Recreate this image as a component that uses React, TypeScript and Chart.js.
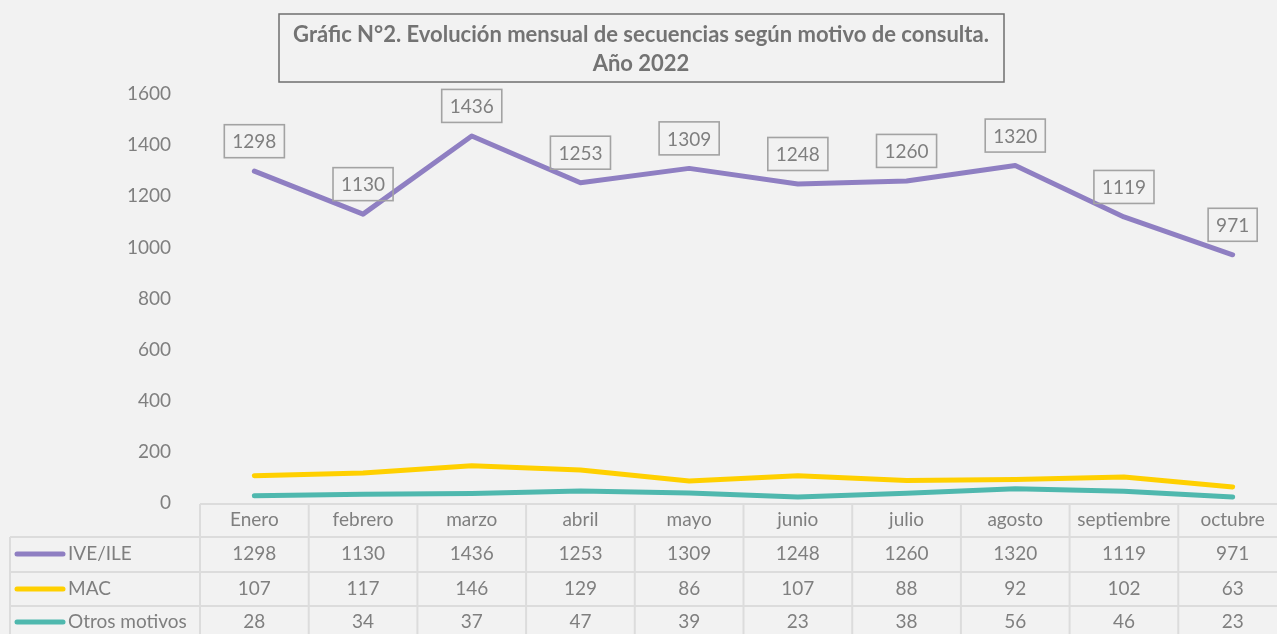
import React, { useEffect, useRef } from "react";
import { Chart, registerables } from "chart.js";

Chart.register(...registerables);

const categories = ["Enero", "febrero", "marzo", "abril", "mayo", "junio", "julio", "agosto", "septiembre", "octubre"];
const ive = [1298, 1130, 1436, 1253, 1309, 1248, 1260, 1320, 1119, 971];
const mac = [107, 117, 146, 129, 86, 107, 88, 92, 102, 63];
const otros = [28, 34, 37, 47, 39, 23, 38, 56, 46, 23];
const seriesNames = ["IVE/ILE", "MAC", "Otros motivos"];
const seriesColors = ["#8f7fc2", "#ffd000", "#4fb8ae"];
const titleLines = ["Gráfic N°2. Evolución mensual de secuencias según motivo de consulta.", "Año 2022"];

const FONT = "Lato, 'Open Sans', sans-serif";
const TEXT = "#7f7f7f";
const GRID = "#dcdcdc";

const overlay = {
  id: "overlay",
  beforeDraw(chart: any) {
    const ctx = chart.ctx;
    ctx.save();
    ctx.fillStyle = "#f2f2f2";
    ctx.fillRect(0, 0, chart.width, chart.height);
    ctx.restore();
  },
  afterDraw(chart: any) {
    const ctx = chart.ctx;
    const x = chart.scales.x;
    const area = chart.chartArea;
    const colW = area.width / categories.length;
    ctx.save();

    // Title box
    ctx.strokeStyle = "#6f6f6f";
    ctx.lineWidth = 1.5;
    ctx.strokeRect(279, 14, 725, 68);
    ctx.fillStyle = "#737373";
    ctx.font = "bold 22px " + FONT;
    ctx.textAlign = "center";
    ctx.textBaseline = "middle";
    ctx.fillText(titleLines[0], 641, 35);
    ctx.fillText(titleLines[1], 641, 64);

    // Data table
    const rowTops = [504, 537, 572, 606, 640];
    ctx.strokeStyle = GRID;
    ctx.lineWidth = 2;
    ctx.beginPath();
    ctx.moveTo(area.left, rowTops[0]);
    ctx.lineTo(area.right, rowTops[0]);
    for (let r = 1; r < 4; r++) {
      ctx.moveTo(10, rowTops[r]);
      ctx.lineTo(area.right, rowTops[r]);
    }
    ctx.moveTo(10, rowTops[1]);
    ctx.lineTo(10, 640);
    for (let c = 0; c <= categories.length; c++) {
      const xx = area.left + c * colW;
      ctx.moveTo(xx, rowTops[0]);
      ctx.lineTo(xx, 640);
    }
    ctx.stroke();

    ctx.font = "19px " + FONT;
    ctx.fillStyle = TEXT;
    ctx.textAlign = "center";
    ctx.textBaseline = "middle";
    const rows = [categories, ive, mac, otros];
    const centers = [520, 554, 589, 622];
    rows.forEach((row: any[], r) => {
      row.forEach((v, i) => {
        ctx.fillText(String(v), x.getPixelForValue(i), centers[r]);
      });
    });

    // legend keys in table
    seriesNames.forEach((name, s) => {
      const cy = centers[s + 1];
      ctx.strokeStyle = seriesColors[s];
      ctx.lineWidth = 5;
      ctx.lineCap = "round";
      ctx.beginPath();
      ctx.moveTo(17, cy);
      ctx.lineTo(63, cy);
      ctx.stroke();
      ctx.fillStyle = TEXT;
      ctx.textAlign = "left";
      ctx.fillText(name, 68, cy);
    });

    // data labels for IVE/ILE
    const meta = chart.getDatasetMeta(0);
    ctx.font = "19px " + FONT;
    ctx.textAlign = "center";
    ctx.lineWidth = 1.6;
    ctx.lineCap = "butt";
    meta.data.forEach((pt: any, i: number) => {
      const label = String(ive[i]);
      const w = ctx.measureText(label).width + 16;
      const h = 33;
      const cx = pt.x;
      const cy = pt.y - 30;
      ctx.strokeStyle = "#a3a3a3";
      ctx.strokeRect(cx - w / 2, cy - h / 2, w, h);
      ctx.fillStyle = TEXT;
      ctx.fillText(label, cx, cy + 1);
    });

    ctx.restore();
  },
};

export default function App() {
  const ref = useRef<HTMLCanvasElement | null>(null);
  useEffect(() => {
    if (!ref.current) return;
    const chart = new Chart(ref.current, {
      type: "line",
      data: {
        labels: categories,
        datasets: [
          { label: seriesNames[0], data: ive, borderColor: seriesColors[0] },
          { label: seriesNames[1], data: mac, borderColor: seriesColors[1] },
          { label: seriesNames[2], data: otros, borderColor: seriesColors[2] },
        ].map((d) => ({
          ...d,
          borderWidth: 5,
          pointRadius: 0,
          pointHoverRadius: 0,
          tension: 0,
          fill: false,
          borderCapStyle: "round" as const,
          borderJoinStyle: "round" as const,
        })),
      },
      options: {
        animation: false,
        responsive: false,
        layout: { padding: { top: 94, bottom: 131, right: 3, left: 0 } },
        plugins: { legend: { display: false }, title: { display: false }, tooltip: { enabled: false } },
        scales: {
          x: { display: false, offset: true },
          y: {
            min: 0,
            max: 1600,
            afterFit: (s: any) => {
              s.width = 200;
            },
            grid: { display: false },
            border: { display: false },
            ticks: {
              stepSize: 200,
              padding: 21,
              color: TEXT,
              font: { family: FONT, size: 19 },
              callback: (v: any) => String(v),
            },
          },
        },
      },
      plugins: [overlay],
    });
    return () => chart.destroy();
  }, []);
  return (
    <div style={{ position: "fixed", left: 0, top: 0, width: 1277, height: 634, overflow: "hidden", background: "#f2f2f2" }}>
      <canvas ref={ref} width={1290} height={634} style={{ display: "block" }} />
    </div>
  );
}
